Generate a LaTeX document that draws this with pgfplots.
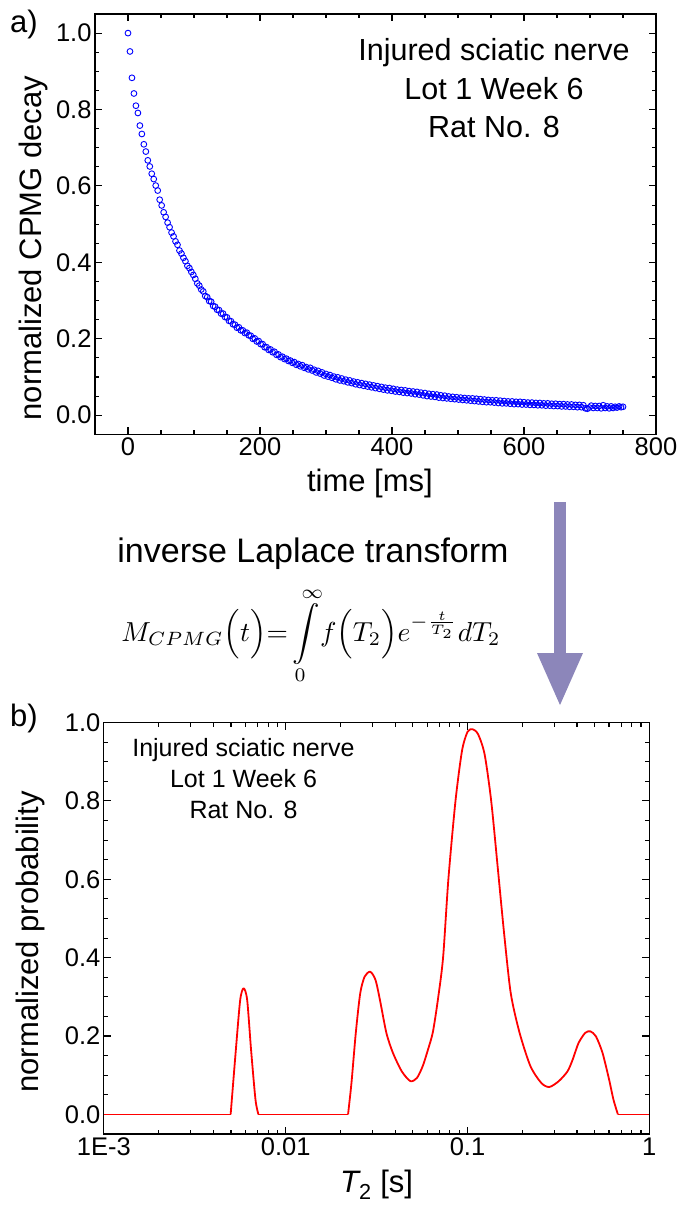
\documentclass[border=0pt]{standalone}
\usepackage{graphicx}
\usepackage{pgfplots}
\pgfplotsset{compat=1.18}
\usepackage{fontspec}
\setmainfont{Liberation Sans}
\definecolor{arrowcol}{RGB}{140,134,186}
\pgfplotstableread{
t y
0 1.000
3 0.952
6 0.883
9 0.842
12 0.810
15 0.791
18 0.758
21 0.736
24 0.709
27 0.690
30 0.667
33 0.651
36 0.632
39 0.618
42 0.601
45 0.588
48 0.564
51 0.549
54 0.531
57 0.519
60 0.504
63 0.492
66 0.478
69 0.468
72 0.455
75 0.446
78 0.431
81 0.423
84 0.412
87 0.403
90 0.391
93 0.385
96 0.375
99 0.367
102 0.357
105 0.345
108 0.339
111 0.329
114 0.324
117 0.312
120 0.309
123 0.299
126 0.297
129 0.286
132 0.284
135 0.276
138 0.275
141 0.266
144 0.266
147 0.257
150 0.256
153 0.247
156 0.246
159 0.238
162 0.237
165 0.229
168 0.230
171 0.222
174 0.222
177 0.215
180 0.216
183 0.209
186 0.208
189 0.200
192 0.201
195 0.193
198 0.194
201 0.186
204 0.186
207 0.178
210 0.178
213 0.171
216 0.172
219 0.165
222 0.166
225 0.158
228 0.159
231 0.152
234 0.153
237 0.147
240 0.148
243 0.142
246 0.143
249 0.137
252 0.139
255 0.132
258 0.134
261 0.128
264 0.131
267 0.124
270 0.126
273 0.120
276 0.124
279 0.117
282 0.119
285 0.112
288 0.116
291 0.109
294 0.112
297 0.104
300 0.108
303 0.101
306 0.105
309 0.098
312 0.101
315 0.094
318 0.099
321 0.091
324 0.096
327 0.089
330 0.093
333 0.086
336 0.091
339 0.084
342 0.088
345 0.081
348 0.086
351 0.079
354 0.084
357 0.077
360 0.082
363 0.075
366 0.080
369 0.073
372 0.078
375 0.071
378 0.076
381 0.069
384 0.074
387 0.067
390 0.072
393 0.065
396 0.071
399 0.064
402 0.069
405 0.062
408 0.067
411 0.061
414 0.066
417 0.059
420 0.065
423 0.058
426 0.063
429 0.057
432 0.062
435 0.055
438 0.061
441 0.054
444 0.059
447 0.052
450 0.058
453 0.050
456 0.056
459 0.049
462 0.055
465 0.048
468 0.054
471 0.046
474 0.052
477 0.045
480 0.051
483 0.044
486 0.049
489 0.043
492 0.048
495 0.042
498 0.047
501 0.041
504 0.046
507 0.040
510 0.045
513 0.039
516 0.044
519 0.038
522 0.044
525 0.037
528 0.043
531 0.036
534 0.042
537 0.035
540 0.041
543 0.034
546 0.040
549 0.034
552 0.039
555 0.033
558 0.039
561 0.032
564 0.038
567 0.031
570 0.037
573 0.031
576 0.036
579 0.030
582 0.036
585 0.029
588 0.035
591 0.029
594 0.035
597 0.028
600 0.034
603 0.028
606 0.033
609 0.027
612 0.033
615 0.027
618 0.032
621 0.026
624 0.032
627 0.026
630 0.031
633 0.025
636 0.031
639 0.025
642 0.030
645 0.024
648 0.030
651 0.024
654 0.029
657 0.023
660 0.029
663 0.023
666 0.028
669 0.022
672 0.028
675 0.022
678 0.027
681 0.021
684 0.027
687 0.021
690 0.026
693 0.018
696 0.017
699 0.020
702 0.025
705 0.019
708 0.024
711 0.019
714 0.024
717 0.018
720 0.026
723 0.019
726 0.023
729 0.018
732 0.023
735 0.019
738 0.022
741 0.020
744 0.023
747 0.021
750 0.022
}\decaytable
\pgfplotstableread{
T p
0.00498 0
0.00532 0.165
0.00562 0.292
0.00587 0.322
0.00614 0.292
0.00645 0.165
0.00682 0.038
0.00708 0
}\peakA
\pgfplotstableread{
T p
0.02203 0
0.0230 0.080
0.0243 0.208
0.0257 0.309
0.0272 0.352
0.0292 0.364
0.0312 0.343
0.0330 0.292
0.0358 0.208
0.0389 0.157
0.0435 0.110
0.0485 0.085
0.0527 0.093
0.0567 0.123
0.0606 0.165
0.0645 0.210
0.0687 0.292
0.0734 0.400
0.0785 0.600
0.0859 0.800
0.0933 0.928
0.1000 0.976
0.1066 0.983
0.1144 0.970
0.1242 0.919
0.135 0.800
0.1466 0.631
0.159 0.462
0.173 0.309
0.1935 0.208
0.222 0.123
0.255 0.080
0.282 0.070
0.318 0.085
0.355 0.110
0.379 0.140
0.408 0.182
0.444 0.208
0.474 0.212
0.509 0.199
0.553 0.157
0.601 0.089
0.635 0.038
0.672 0
}\peakB
\pgfplotstableread{
T p
0.001 0
0.00498 0
}\flatA
\pgfplotstableread{
T p
0.00708 0
0.02203 0
}\flatB
\pgfplotstableread{
T p
0.672 0
1 0
}\flatC
\begin{document}
\begin{tikzpicture}
\useasboundingbox (0pt,0pt) rectangle (684pt,-1205pt);
\pgfplotsset{
  every axis/.append style={
    scale only axis,
    tick align=inside,
    major tick length=7pt,
    minor tick length=4pt,
    axis line style={line width=1.2pt},
    every tick/.style={line width=1.1pt,black},
    ticklabel style={font=\fontsize{25.5}{30}\selectfont},
    /pgf/number format/assume math mode=true,
    label style={font=\fontsize{31}{36}\selectfont},
  }
}
\begin{axis}[
  at={(95pt,-434.3pt)}, anchor=south west,
  width=561pt, height=420.3pt,
  xmin=-50, xmax=800, ymin=-0.05, ymax=1.05,
  xtick={0,200,400,600,800},
  ytick={0,0.2,0.4,0.6,0.8,1.0},
  minor x tick num=3, minor y tick num=3,
  yticklabel style={/pgf/number format/.cd,fixed,fixed zerofill,precision=1},
  xlabel={time [ms]},
  ylabel={normalized CPMG decay},
  xlabel style={at={(axis description cs:0.49,-0.118)}, anchor=center},
  ylabel style={at={(axis description cs:-0.11,0.443)}, anchor=center},
]
\addplot[only marks, mark=o, mark size=2.9pt, blue, mark options={line width=0.9pt}] table[x=t,y=y] {\decaytable};
\end{axis}

\begin{axis}[
  at={(103.9pt,-1134pt)}, anchor=south west,
  width=545.4pt, height=411.5pt,
  xmode=log,
  xmin=0.001, xmax=1, ymin=-0.05, ymax=1.0,
  xtick={0.001,0.01,0.1,1},
  xticklabels={1E-3,0.01,0.1,1},
  ytick={0,0.2,0.4,0.6,0.8,1.0},
  minor y tick num=3,
  yticklabel style={/pgf/number format/.cd,fixed,fixed zerofill,precision=1},
  xlabel={{\itshape T}\textsubscript{2} [s]},
  ylabel={normalized probability},
  xlabel style={at={(axis description cs:0.5,-0.124)}, anchor=center},
  ylabel style={at={(axis description cs:-0.135,0.467)}, anchor=center},
]
\addplot[red, line width=1.8pt] table[x=T,y=p] {\flatA};
\addplot[red, line width=1.8pt, smooth, tension=0.45, line join=round] table[x=T,y=p] {\peakA};
\addplot[red, line width=1.8pt] table[x=T,y=p] {\flatB};
\addplot[red, line width=1.8pt, smooth, tension=0.45, line join=round] table[x=T,y=p] {\peakB};
\addplot[red, line width=1.8pt] table[x=T,y=p] {\flatC};
\end{axis}

\node[anchor=center, align=center, font=\fontsize{30.5}{38.5}\selectfont] at (494pt,-88.5pt) {Injured sciatic nerve\\Lot 1 Week 6\\Rat No. 8};
\node[anchor=center, align=center, font=\fontsize{25}{31}\selectfont] at (243.5pt,-779pt) {Injured sciatic nerve\\Lot 1 Week 6\\Rat No. 8};
\node[anchor=center, font=\fontsize{31}{36}\selectfont] at (24pt,-24pt) {a)};
\node[anchor=center, font=\fontsize{31}{36}\selectfont] at (24pt,-718pt) {b)};
\node[anchor=center, inner sep=0pt, font=\fontsize{34}{40}\selectfont] at (313pt,-554pt) {inverse Laplace transform};
\node[anchor=center, inner sep=0pt] at (311pt,-636pt) {\scalebox{2.75}[2.75]{$\displaystyle M_{CPMG}\Bigl(t\Bigr){=}\int\limits_0^{\infty}\! f\Bigl(T_2\Bigr)e^{-\frac{t}{T_2}}dT_2$}};
\fill[arrowcol] (554pt,-502pt) rectangle (566pt,-655pt);
\fill[arrowcol] (537pt,-653pt) -- (583pt,-653pt) -- (560pt,-705pt) -- cycle;
\end{tikzpicture}
\end{document}
